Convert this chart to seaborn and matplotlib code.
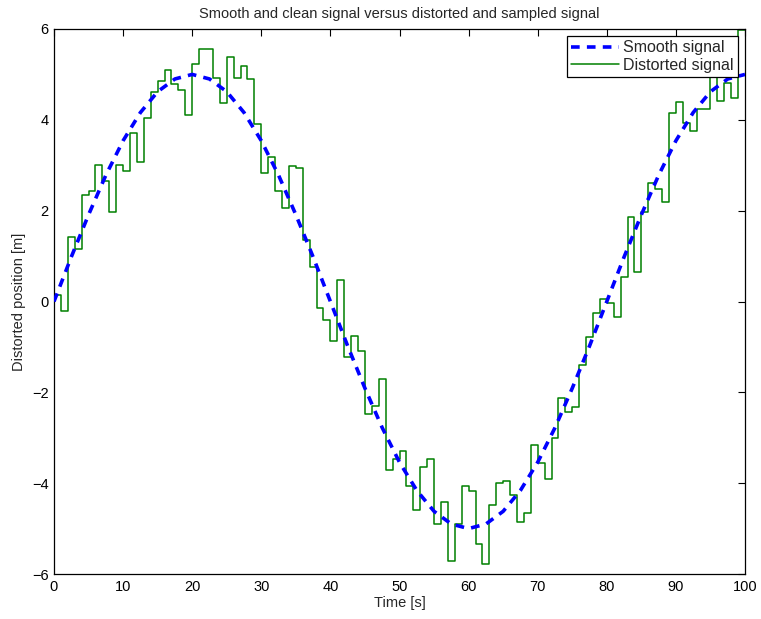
import matplotlib
matplotlib.use("Agg")
import matplotlib.pyplot as plt
import seaborn as sns
import pandas as pd

# Smooth signal read every 2.5 s
smooth_t = [i * 2.5 for i in range(41)]
smooth_v = [0.00, 0.98, 1.91, 2.78, 3.54, 4.16, 4.62, 4.90, 5.00, 4.90,
            4.62, 4.16, 3.54, 2.78, 1.91, 0.98, 0.00, -0.98, -1.91, -2.78,
            -3.54, -4.16, -4.62, -4.90, -5.00, -4.90, -4.62, -4.16, -3.54, -2.78,
            -1.91, -0.98, 0.00, 0.98, 1.91, 2.78, 3.54, 4.16, 4.62, 4.90, 5.00]

# Distorted, sampled signal (one sample per second, held)
dist_t = list(range(101))
dist_v = [0.15, -0.20, 1.41, 1.15, 2.35, 2.43, 3.00, 2.66, 1.98, 3.00,
          2.88, 3.70, 3.07, 4.03, 4.62, 4.85, 5.10, 4.78, 4.66, 4.10,
          5.23, 5.56, 5.56, 4.92, 4.38, 5.38, 4.92, 5.18, 4.91, 3.90,
          2.84, 3.19, 2.43, 2.05, 2.98, 2.93, 1.35, 0.77, -0.15, -0.41,
          -0.88, 0.47, -1.22, -0.76, -1.08, -2.47, -2.31, -1.70, -3.70, -3.46,
          -3.30, -4.06, -4.58, -3.64, -3.46, -4.91, -4.42, -5.72, -4.90, -4.06,
          -4.18, -5.35, -5.77, -4.47, -3.99, -3.96, -4.27, -4.85, -4.66, -3.15,
          -3.56, -3.91, -3.00, -2.13, -2.44, -2.33, -1.39, -0.79, -0.25, 0.06,
          -0.03, -0.34, 0.53, 1.85, 0.64, 1.97, 2.60, 2.47, 2.18, 4.14,
          4.39, 3.92, 3.75, 4.23, 4.23, 5.00, 4.41, 4.82, 4.49, 5.97,
          5.97]

x_ticks = [0, 10, 20, 30, 40, 50, 60, 70, 80, 90, 100]
y_ticks = [-6, -4, -2, 0, 2, 4, 6]

sns.set_style("white")
plt.rcParams['font.family'] = ['Liberation Sans', 'DejaVu Sans']
plt.rcParams['axes.unicode_minus'] = True

fig = plt.figure(figsize=(7.61, 6.19), dpi=100)
ax = fig.add_axes([54 / 761, 1 - 574 / 619, (745 - 54) / 761, (574 - 29) / 619])

df_s = pd.DataFrame({"t": smooth_t, "v": smooth_v})
df_d = pd.DataFrame({"t": dist_t, "v": dist_v})

sns.lineplot(data=df_s, x="t", y="v", ax=ax, color="#0000ff", linewidth=2.6,
             linestyle=(0, (2.4, 2.0)), label="Smooth signal", zorder=3)
sns.lineplot(data=df_d, x="t", y="v", ax=ax, color="#008000", linewidth=1.1,
             drawstyle="steps-post", label="Distorted signal", zorder=2)

ax.set_xlim(0, 100)
ax.set_ylim(-6, 6)
ax.set_xticks(x_ticks)
ax.set_yticks(y_ticks)
ax.set_xticklabels([str(v) for v in x_ticks])
ax.set_yticklabels([str(v).replace('-', '\u2212') for v in y_ticks])
ax.tick_params(direction="in", top=True, right=True, length=5, width=0.8,
               labelsize=10.5, colors="black", pad=4)
for s in ax.spines.values():
    s.set_color("black")
    s.set_linewidth(0.9)

ax.set_xlabel("Time [s]", fontsize=10.5, labelpad=2)
ax.set_ylabel("Distorted position [m]", fontsize=10.5, labelpad=4)
ax.set_title("Smooth and clean signal versus distorted and sampled signal",
             fontsize=10.5, pad=8)

leg = ax.legend(loc="upper right", fontsize=11.5, frameon=True, fancybox=False,
                edgecolor="black", framealpha=1, borderpad=0.25, handlelength=3.0,
                labelspacing=0.15, borderaxespad=0.45, handletextpad=0.3)
leg.get_frame().set_linewidth(0.9)

fig.savefig("out.png", dpi=100)
